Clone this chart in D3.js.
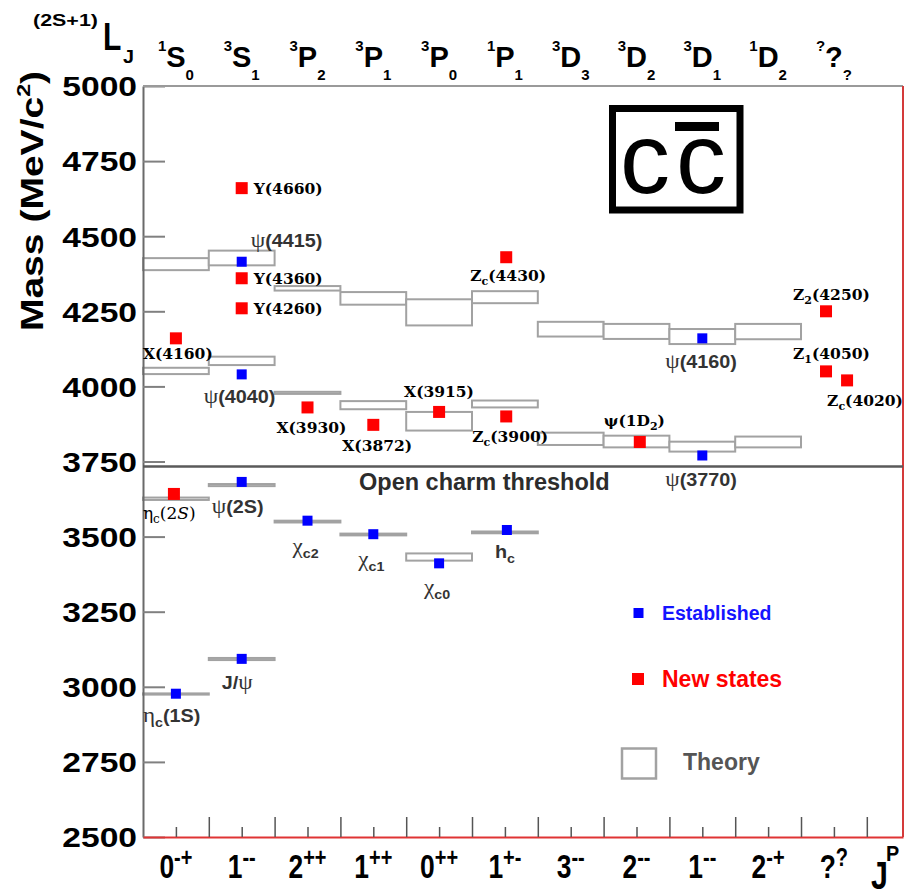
<!DOCTYPE html>
<html>
<head>
<meta charset="utf-8">
<script src="https://cdn.jsdelivr.net/npm/d3@7"></script>
<style>
  html, body { margin: 0; padding: 0; background: #fff; }
  svg { display: block; }
</style>
</head>
<body>
<svg id="chart" width="914" height="896"></svg>
<script>
// ---- spectroscopic columns: (2S+1)L_J on top, J^PC at the bottom ----
const termSup  = ["1", "3", "3", "3", "3", "1", "3", "3", "3", "1", "?"];
const termMain = ["S", "S", "P", "P", "P", "P", "D", "D", "D", "D", "?"];
const termSub  = ["0", "1", "2", "1", "0", "1", "3", "2", "1", "2", "?"];
const jpcMain  = ["0", "1", "2", "1", "0", "1", "3", "2", "1", "2", "?"];
const jpcSup   = ["-+", "--", "++", "++", "++", "+-", "--", "--", "--", "-+", "?"];

const massTicks = [2500, 2750, 3000, 3250, 3500, 3750, 4000, 4250, 4500, 4750, 5000];
const openCharmThreshold = 3733;

// ---- potential-model predictions (MeV/c^2), one band per entry ----
const theoryColumn = [0, 0, 0, 0, 1, 1, 1, 1, 2, 2, 2, 3, 3, 3, 4, 4, 4, 5, 5, 5, 6, 6, 7, 7, 8, 8, 9, 9];
const theoryLow    = [4387, 4041, 3622, 2974, 4403, 4071, 3668, 3089, 4319, 3975, 3547, 4272, 3924, 3504,
                      4203, 3853, 3420, 4277, 3930, 3511, 4166, 3805, 4158, 3797, 4141, 3783, 4157, 3797];
const theoryHigh   = [4427, 4062, 3630, 2978, 4452, 4099, 3675, 3096, 4334, 3982, 3553, 4314, 3951, 3510,
                      4290, 3915, 3444, 4317, 3953, 3517, 4215, 3846, 4208, 3836, 4191, 3816, 4208, 3833];

// ---- observed charmonium(-like) states ----
const stateLabel  = ["Y(4660)", "ψ(4415)", "Y(4360)", "Y(4260)", "X(4160)", "Z_{c}(4430)", "ψ(4040)",
                     "X(3930)", "X(3872)", "X(3915)", "Z_{c}(3900)", "ψ(4160)", "Z_{2}(4250)", "Z_{1}(4050)",
                     "Z_{c}(4020)", "ψ(1D_{2})", "ψ(3770)", "η_{c}(2~{S})", "ψ(2S)", "χ_{c2}", "χ_{c1}",
                     "χ_{c0}", "h_{c}", "J/ψ", "η_{c}(1S)"];
const stateColumn = [1.5, 1.5, 1.5, 1.5, 0.5, 5.52, 1.5, 2.5, 3.5, 4.5, 5.52, 8.5, 10.38, 10.38,
                     10.7, 7.55, 8.5, 0.47, 1.5, 2.5, 3.5, 4.5, 5.53, 1.5, 0.5];
const stateMass   = [4660, 4415, 4360, 4260, 4160, 4430, 4040, 3930, 3872, 3915, 3900, 4160, 4250, 4050,
                     4020, 3815, 3770, 3642, 3682, 3553, 3508, 3411, 3522, 3093, 2977];
const stateType   = ["new", "established", "new", "new", "new", "new", "established", "new", "new", "new",
                     "new", "established", "new", "new", "new", "new", "established", "new", "established",
                     "established", "established", "established", "established", "established", "established"];

// ---- label placement relative to each marker (px) and label typeface ----
const labelDx   = [12, 9, 12, 12, -33, -36, -38, -31, -31, -35, -34, -37, -33, -33, -20, -36, -37, -31, -30, -15, -15, -15, -12, -20, -33];
const labelDy   = [5.5, -15, 5.5, 6, 21, 24, 29, 26, 26, -15, 26, 30, -11, -12, 26, -16, 31, 25, 31, 32, 32, 31, 28, 30, 28];
const labelFace = ["serif", "sans", "serif", "serif", "serif", "serif", "sans", "serif", "serif", "serif",
                   "serif", "sans", "serif", "serif", "serif", "serif", "sans", "serifLight", "sans",
                   "sans", "sans", "sans", "sans", "sans", "sans"];

// ---------------------------------------------------------------------
const svg = d3.select("#chart");
const SANS = "'Liberation Sans', Arial, Helvetica, sans-serif";
const SERIF = "'DejaVu Serif', 'Liberation Serif', serif";
const GREEK = "'Liberation Serif', 'DejaVu Serif', serif";

const x = d3.scaleLinear().domain([0, 11.55]).range([143, 903]);
const y = d3.scaleLinear().domain([2500, 5000]).range([837, 86]);

const faces = {
  serif:      { family: SERIF, weight: "bold",   size: 15.5, fill: "#000", greek: SERIF, greekWeight: "bold", greekSize: 15.5, sub: 11, subShift: 4, sx: 1 },
  serifLight: { family: SERIF, weight: "normal", size: 17,   fill: "#000", greek: SERIF, greekWeight: "normal", greekSize: 17, sub: 12, subShift: 4, sx: 1 },
  sans:       { family: SANS,  weight: "bold",   size: 18,   fill: "#333", greek: GREEK, greekWeight: "normal", greekSize: 21, sub: 13, subShift: 5, sx: 1.1 }
};

// tiny markup: _{..} subscript, ^{..} superscript, ~{..} italic
function parseMarkup(s) {
  const out = [];
  let buf = "", i = 0;
  while (i < s.length) {
    const ch = s[i];
    if ((ch === "_" || ch === "^" || ch === "~") && s[i + 1] === "{") {
      if (buf) out.push({ t: buf, k: "n" });
      buf = "";
      const j = s.indexOf("}", i);
      out.push({ t: s.slice(i + 2, j), k: ch === "_" ? "sub" : ch === "^" ? "sup" : "it" });
      i = j + 1;
    } else { buf += ch; i++; }
  }
  if (buf) out.push({ t: buf, k: "n" });
  return out;
}

function richText(g, str, px, py, face) {
  const f = faces[face];
  const t = g.append("text")
    .attr("transform", `translate(${px},${py}) scale(${f.sx},1)`)
    .attr("font-family", f.family)
    .attr("font-weight", f.weight)
    .attr("font-size", f.size)
    .attr("fill", f.fill);
  let shift = 0;
  parseMarkup(str).forEach(seg => {
    const target = seg.k === "sub" ? f.subShift : seg.k === "sup" ? -6 : 0;
    const runs = seg.t.split(/([\u0370-\u03FF]+)/).filter(r => r.length);
    runs.forEach((r, ri) => {
      const ts = t.append("tspan").text(r);
      if (ri === 0) ts.attr("dy", target - shift);
      if (seg.k === "sub" || seg.k === "sup") ts.attr("font-size", f.sub);
      if (seg.k === "it") ts.attr("font-style", "italic");
      if (/[\u0370-\u03FF]/.test(r)) {
        ts.attr("font-family", f.greek).attr("font-weight", f.greekWeight);
        if (seg.k === "n") ts.attr("font-size", f.greekSize);
      }
    });
    shift = target;
  });
  return t;
}

// ---- theory bands ----
const theory = theoryColumn.map((c, i) => ({ c, lo: theoryLow[i], hi: theoryHigh[i] }));
svg.append("g").selectAll("rect").data(theory).join("rect")
  .attr("x", d => x(d.c))
  .attr("width", d => x(d.c + 1) - x(d.c))
  .attr("y", d => y(d.hi))
  .attr("height", d => y(d.lo) - y(d.hi))
  .attr("fill", "#fff")
  .attr("stroke", "#a2a2a2")
  .attr("stroke-width", 2);

// ---- axes and frame ----
const yAxis = d3.axisLeft(y).tickValues(massTicks).tickSize(-22).tickSizeOuter(0).tickPadding(5)
  .tickFormat(d3.format("d"));
const gy = svg.append("g").attr("transform", `translate(${x(0)},0)`).call(yAxis);
gy.select(".domain").attr("stroke", "#6a6a6a").attr("stroke-width", 2);
gy.selectAll(".tick line").attr("stroke", "#808080").attr("stroke-width", 2);
gy.selectAll(".tick text")
  .attr("font-family", SANS).attr("font-weight", "bold").attr("font-size", 28)
  .attr("fill", "#000").attr("dy", "0.35em")
  .attr("transform", "scale(1.2,1)");

const majorCols = d3.range(1, 12);
const minorCols = d3.range(0, 11).map(c => c + 0.5);
const gxMajor = svg.append("g").attr("transform", `translate(0,${y(2500)})`)
  .call(d3.axisBottom(x).tickValues(majorCols).tickSize(-20).tickSizeOuter(0).tickFormat(""));
const gxMinor = svg.append("g").attr("transform", `translate(0,${y(2500)})`)
  .call(d3.axisBottom(x).tickValues(minorCols).tickSize(-10).tickSizeOuter(0).tickFormat(""));
[gxMajor, gxMinor].forEach(g => g.selectAll(".tick line").attr("stroke", "#555").attr("stroke-width", 1.5));
gxMinor.select(".domain").remove();
gxMajor.select(".domain").attr("stroke", "#e03434").attr("stroke-width", 2);

// top and right edges of the frame
svg.append("line").attr("x1", x(0)).attr("x2", x(11.55)).attr("y1", y(5000)).attr("y2", y(5000))
  .attr("stroke", "#9a9a9a").attr("stroke-width", 2);
svg.append("line").attr("x1", x(11.55)).attr("x2", x(11.55)).attr("y1", y(5000)).attr("y2", y(2500))
  .attr("stroke", "#d43a3a").attr("stroke-width", 2);

// ---- open charm threshold ----
svg.append("line").attr("x1", x(0)).attr("x2", x(11.55))
  .attr("y1", y(openCharmThreshold)).attr("y2", y(openCharmThreshold))
  .attr("stroke", "#5a5a5a").attr("stroke-width", 2.5);
svg.append("text").attr("x", 359).attr("y", y(openCharmThreshold) + 23.5)
  .attr("font-family", SANS).attr("font-weight", "bold").attr("font-size", 23.5).attr("fill", "#2c2c2c")
  .text("Open charm threshold");

// ---- axis titles and category labels ----
svg.append("text")
  .attr("transform", `translate(43,201) rotate(-90) scale(1.22,1)`)
  .attr("text-anchor", "middle")
  .attr("font-family", SANS).attr("font-weight", "bold").attr("font-size", 32).attr("fill", "#000")
  .call(t => {
    t.append("tspan").text("Mass (MeV/c");
    t.append("tspan").attr("font-size", 19).attr("dy", -13).text("2");
    t.append("tspan").attr("dy", 13).text(")");
  });

const topG = svg.append("g").attr("font-family", SANS).attr("font-weight", "bold").attr("fill", "#000");
topG.append("text").attr("transform", "translate(33,26) scale(1.3,1)").attr("font-size", 16.5).text("(2S+1)");
topG.append("text").attr("transform", "translate(103,50) scale(0.77,1)").attr("font-size", 39).text("L");
topG.append("text").attr("transform", "translate(123,63) scale(1.1,1)").attr("font-size", 18).text("J");

termMain.forEach((m, i) => {
  const t = topG.append("text").attr("x", x(i + 0.5)).attr("y", 66.7).attr("text-anchor", "middle");
  t.append("tspan").attr("font-size", 15).attr("dy", -16).text(termSup[i]);
  t.append("tspan").attr("font-size", 29).attr("dy", 16).text(m);
  t.append("tspan").attr("font-size", 15).attr("dy", 13).text(termSub[i]);
});

const botG = svg.append("g").attr("font-family", SANS).attr("font-weight", "bold").attr("fill", "#000");
jpcMain.forEach((m, i) => {
  const t = botG.append("text")
    .attr("transform", `translate(${x(i + 0.5)},878) scale(0.8,1)`)
    .attr("text-anchor", "middle");
  t.append("tspan").attr("font-size", 33).text(m);
  t.append("tspan").attr("font-size", 25).attr("dy", -12).text(jpcSup[i]);
});
botG.append("text").attr("transform", "translate(871,889) scale(0.8,1)").attr("font-size", 38).text("J");
botG.append("text").attr("transform", "translate(886,861) scale(0.9,1)").attr("font-size", 22).text("P");

// ---- states ----
const states = stateLabel.map((label, i) => ({
  label, col: stateColumn[i], mass: stateMass[i], type: stateType[i],
  dx: labelDx[i], dy: labelDy[i], face: labelFace[i]
}));
const markSize = { established: 10, new: 12 };
const markColor = { established: "#0000ff", new: "#ff0000" };

svg.append("g").selectAll("rect").data(states).join("rect")
  .attr("x", d => x(d.col) - markSize[d.type] / 2)
  .attr("y", d => y(d.mass) - markSize[d.type] / 2)
  .attr("width", d => markSize[d.type])
  .attr("height", d => markSize[d.type])
  .attr("fill", d => markColor[d.type]);

const labelG = svg.append("g");
states.forEach(d => richText(labelG, d.label, x(d.col) + d.dx, y(d.mass) + d.dy, d.face));

// ---- c c-bar emblem ----
const logo = svg.append("g");
logo.append("rect").attr("x", 612.5).attr("y", 108.5).attr("width", 127.5).attr("height", 101.5)
  .attr("fill", "none").attr("stroke", "#000").attr("stroke-width", 7);
logo.append("text").attr("x", 620).attr("y", 193).attr("font-family", SANS).attr("font-size", 100)
  .attr("letter-spacing", 6).attr("fill", "#000").text("cc");
logo.append("rect").attr("x", 675).attr("y", 122).attr("width", 44).attr("height", 9).attr("fill", "#000");

// ---- legend ----
const legend = svg.append("g").attr("font-family", SANS).attr("font-weight", "bold");
legend.append("rect").attr("x", 633.5).attr("y", 608).attr("width", 10).attr("height", 10).attr("fill", markColor.established);
legend.append("text").attr("x", 662).attr("y", 620).attr("font-size", 19.5).attr("fill", "#1414ff").text("Established");
legend.append("rect").attr("x", 632).attr("y", 673).attr("width", 12).attr("height", 12).attr("fill", markColor.new);
legend.append("text").attr("x", 662).attr("y", 687).attr("font-size", 23).attr("fill", "#ff0000").text("New states");
legend.append("rect").attr("x", 622).attr("y", 748.5).attr("width", 34).attr("height", 30)
  .attr("fill", "#fff").attr("stroke", "#a2a2a2").attr("stroke-width", 2.5);
legend.append("text").attr("x", 683).attr("y", 770).attr("font-size", 23).attr("fill", "#555").text("Theory");
</script>
</body>
</html>
